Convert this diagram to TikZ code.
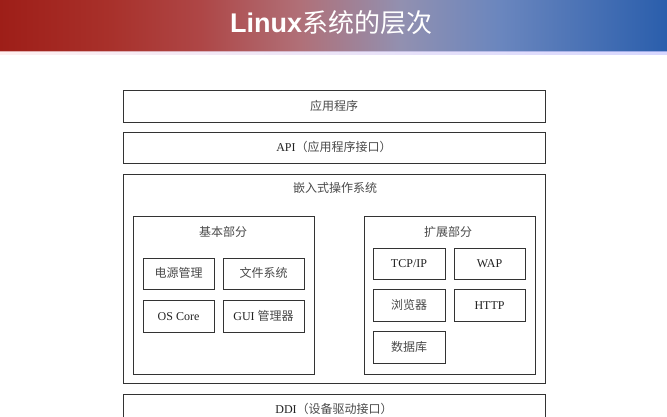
\documentclass[tikz,border=0pt]{standalone}
\usepackage{fontspec}
\setmainfont{Liberation Serif}
\newfontfamily\cjk{Noto Sans CJK SC}
\newfontfamily\titlelat{Liberation Sans}
\usetikzlibrary{shadows}
\definecolor{tbA}{HTML}{9E1E18}
\definecolor{tbB}{HTML}{A8302A}
\definecolor{tbC}{HTML}{AE4646}
\definecolor{tbD}{HTML}{B07078}
\definecolor{tbE}{HTML}{9290B0}
\definecolor{tbF}{HTML}{6A86BE}
\definecolor{tbG}{HTML}{2A5EAC}
\definecolor{boxline}{HTML}{333333}
\definecolor{boxtext}{HTML}{222222}
\definecolor{zhtext}{HTML}{4A4A4A}
\newcommand{\zh}[1]{{\cjk\color{zhtext}#1}}
\pgfdeclarehorizontalshading{titlebar}{100bp}{color(0bp)=(tbA); color(25bp)=(tbA); color(33bp)=(tbB); color(40bp)=(tbC); color(47.5bp)=(tbD); color(55bp)=(tbE); color(62.5bp)=(tbF); color(75bp)=(tbG); color(100bp)=(tbG)}
\tikzset{
  box/.style={draw=boxline, line width=0.8pt, fill=white, inner sep=0pt,
    font=\fontsize{12}{14}\selectfont, text=boxtext,
    text height=8.5pt, text depth=0.5pt,
    drop shadow={shadow xshift=0.8pt, shadow yshift=-0.8pt, opacity=0.55, fill=black}},
  lbl/.style={inner sep=0pt, font=\fontsize{12}{14}\selectfont, text=boxtext,
    text height=8.5pt, text depth=0.5pt},
  titletext/.style={inner sep=0pt, text=white}
}
\begin{document}
\begin{tikzpicture}[x=1pt,y=-1pt]
\useasboundingbox (0,0) rectangle (667,416);
\clip (0,0) rectangle (667,416);
\fill[white] (0,0) rectangle (667,416);
\shade[shading=titlebar] (0,0) rectangle (667,51);
\shade[left color=red!8, right color=blue!22, opacity=0.7] (0,51) rectangle (667,54);
\node[titletext] (title) at (331,23) {{\fontsize{27}{30}\selectfont\titlelat\bfseries Linux}{\fontsize{26}{30}\selectfont\cjk 系统的层次}};
% layers
\node[box, minimum width=422pt, minimum height=32pt] (app) at (334,106) {\zh{应用程序}};
\node[box, minimum width=422pt, minimum height=31pt] (api) at (334,147.5) {API\zh{（应用程序接口）}};
\node[box, minimum width=422pt, minimum height=209pt] (emb) at (334,278.5) {};
\node[lbl] (embt) at (335,188) {\zh{嵌入式操作系统}};
\node[box, minimum width=422pt, minimum height=36pt] (ddi) at (334,412) {};
\node[lbl] (ddit) at (334,409) {DDI\zh{（设备驱动接口）}};
% basic part
\node[box, minimum width=181pt, minimum height=158pt] (basic) at (223.5,295) {};
\node[lbl] (basict) at (223,232) {\zh{基本部分}};
\node[box, minimum width=71pt, minimum height=31pt] (pw) at (178.5,273.5) {\zh{电源管理}};
\node[box, minimum width=81pt, minimum height=31pt] (fs) at (263.5,273.5) {\zh{文件系统}};
\node[box, minimum width=71pt, minimum height=32pt] (core) at (178.5,316) {OS Core};
\node[box, minimum width=81pt, minimum height=32pt] (gui) at (263.5,316) {GUI \zh{管理器}};
% extension part
\node[box, minimum width=171pt, minimum height=158pt] (ext) at (449.5,295) {};
\node[lbl] (extt) at (448,232) {\zh{扩展部分}};
\node[box, minimum width=72pt, minimum height=31pt] (tcp) at (409,263.5) {TCP/IP};
\node[box, minimum width=71pt, minimum height=31pt] (wap) at (489.5,263.5) {WAP};
\node[box, minimum width=72pt, minimum height=32pt] (brw) at (409,305) {\zh{浏览器}};
\node[box, minimum width=71pt, minimum height=32pt] (http) at (489.5,305) {HTTP};
\node[box, minimum width=72pt, minimum height=32pt] (db) at (409,347) {\zh{数据库}};
\end{tikzpicture}
\end{document}
